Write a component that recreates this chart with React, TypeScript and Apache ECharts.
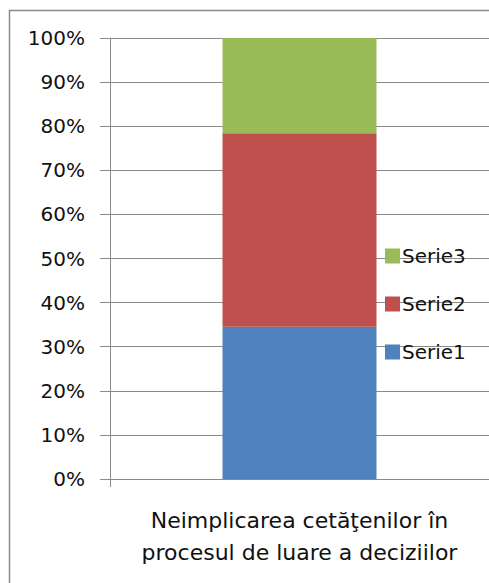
import React, { useEffect, useRef } from "react";
import * as echarts from "echarts";

const categories = ["Neimplicarea cetăţenilor în\nprocesul de luare a deciziilor"];
const seriesNames = ["Serie1", "Serie2", "Serie3"];
const serie1 = [34.5];
const serie2 = [43.9];
const serie3 = [21.6];
const yTicks = [0, 10, 20, 30, 40, 50, 60, 70, 80, 90, 100];
const colors = ["#4F81BD", "#C0504D", "#9BBB59"];

export default function App() {
  const ref = useRef<HTMLDivElement>(null);
  useEffect(() => {
    if (!ref.current) return;
    const chart = echarts.init(ref.current, undefined, { renderer: "svg" });
    const values = [serie1, serie2, serie3];
    chart.setOption({
      animation: false,
      textStyle: { fontFamily: "DejaVu Sans" },
      grid: { left: 110, top: 38, width: 384, bottom: 104, containLabel: false },
      legend: {
        orient: "vertical",
        left: 380,
        top: 241,
        itemWidth: 15,
        itemHeight: 15,
        itemGap: 28,
        icon: "rect",
        data: [seriesNames[2], seriesNames[1], seriesNames[0]],
        textStyle: { fontSize: 20, color: "#111", fontFamily: "DejaVu Sans", padding: [0, 0, 0, -3] },
      },
      graphic: [
        {
          type: "rect",
          shape: { x: 9.5, y: 10.5, width: 520, height: 620 },
          style: { fill: "none", stroke: "#8a8a8a", lineWidth: 1.5 },
          silent: true,
        },
      ],
      xAxis: {
        type: "category",
        data: categories,
        axisLine: { show: true, lineStyle: { color: "#8a8a8a", width: 1 } },
        axisTick: { show: true, length: 8, alignWithLabel: false, lineStyle: { color: "#8a8a8a" } },
        axisLabel: {
          fontSize: 22,
          color: "#111",
          lineHeight: 32,
          margin: 25,
          fontFamily: "DejaVu Sans",
        },
      },
      yAxis: {
        type: "value",
        min: yTicks[0],
        max: yTicks[yTicks.length - 1],
        interval: 10,
        axisLine: { show: true, lineStyle: { color: "#8a8a8a", width: 1 } },
        axisTick: { show: true, length: 10, lineStyle: { color: "#8a8a8a" } },
        splitLine: { show: true, lineStyle: { color: "#8a8a8a", width: 1 } },
        axisLabel: {
          formatter: "{value}%",
          fontSize: 20,
          color: "#111",
          margin: 25,
          fontFamily: "DejaVu Sans",
        },
      },
      series: seriesNames.map((name, i) => ({
        name,
        type: "bar",
        stack: "total",
        data: values[i],
        barWidth: 154,
        itemStyle: { color: colors[i] },
      })),
    });
    return () => chart.dispose();
  }, []);
  return (
    <div
      ref={ref}
      style={{ position: "fixed", left: 0, top: 0, width: 489, height: 583, background: "#fff" }}
    />
  );
}
